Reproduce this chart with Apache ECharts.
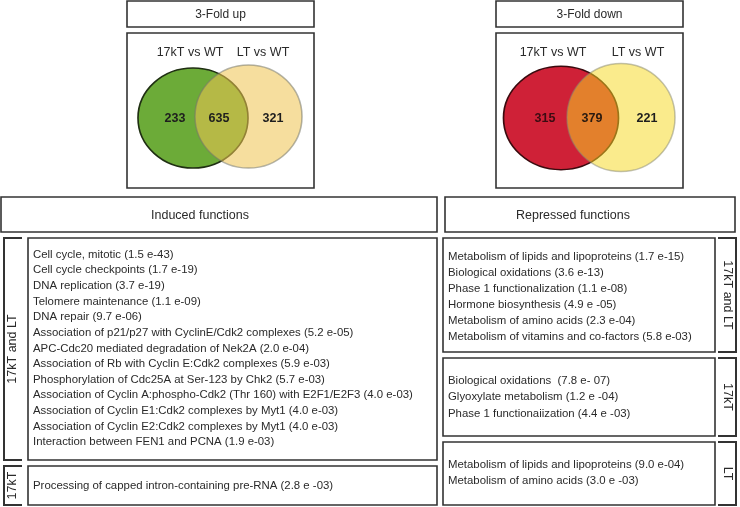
<!DOCTYPE html>
<html>
<head>
<meta charset="utf-8">
<script src="https://cdn.jsdelivr.net/npm/echarts@6/dist/echarts.min.js"></script>
<style>
html,body{margin:0;padding:0;background:#fff;}
#chart{width:740px;height:507px;}
</style>
</head>
<body>
<div id="chart"></div>
<script>
// ---- data ----
const vennTitles = ['3-Fold up', '3-Fold down'];
const setLabels = ['17kT vs WT', 'LT vs WT'];
const upCounts = [233, 635, 321];      // 17kT only, both, LT only
const downCounts = [315, 379, 221];    // 17kT only, both, LT only
const sectionHeaders = ['Induced functions', 'Repressed functions'];
const groupLabels = ['17kT and LT', '17kT', 'LT'];
const inducedBoth = [
  'Cell cycle, mitotic (1.5 e-43)',
  'Cell cycle checkpoints (1.7 e-19)',
  'DNA replication (3.7 e-19)',
  'Telomere maintenance (1.1 e-09)',
  'DNA repair (9.7 e-06)',
  'Association of p21/p27 with CyclinE/Cdk2 complexes (5.2 e-05)',
  'APC-Cdc20 mediated degradation of Nek2A (2.0 e-04)',
  'Association of Rb with Cyclin E:Cdk2 complexes (5.9 e-03)',
  'Phosphorylation of Cdc25A at Ser-123 by Chk2 (5.7 e-03)',
  'Association of Cyclin A:phospho-Cdk2 (Thr 160) with E2F1/E2F3 (4.0 e-03)',
  'Association of Cyclin E1:Cdk2 complexes by Myt1 (4.0 e-03)',
  'Association of Cyclin E2:Cdk2 complexes by Myt1 (4.0 e-03)',
  'Interaction between FEN1 and PCNA (1.9 e-03)'
];
const induced17kT = ['Processing of capped intron-containing pre-RNA (2.8 e -03)'];
const repressedBoth = [
  'Metabolism of lipids and lipoproteins (1.7 e-15)',
  'Biological oxidations (3.6 e-13)',
  'Phase 1 functionalization (1.1 e-08)',
  'Hormone biosynthesis (4.9 e -05)',
  'Metabolism of amino acids (2.3 e-04)',
  'Metabolism of vitamins and co-factors (5.8 e-03)'
];
const repressed17kT = [
  'Biological oxidations  (7.8 e- 07)',
  'Glyoxylate metabolism (1.2 e -04)',
  'Phase 1 functionaiization (4.4 e -03)'
];
const repressedLT = [
  'Metabolism of lipids and lipoproteins (9.0 e-04)',
  'Metabolism of amino acids (3.0 e -03)'
];

// ---- drawing ----
const FONT = '"Liberation Sans", Arial, Helvetica, sans-serif';
const INK = '#2a2a2a';
const BOX = '#333';
const LIST = 11.4;
const g = [];

function rect(x, y, w, h, lw) {
  g.push({type: 'rect', shape: {x: x, y: y, width: w, height: h},
    style: {fill: 'none', stroke: BOX, lineWidth: lw || 1.6}, z: 5});
}
function text(str, x, y, opt) {
  opt = opt || {};
  g.push({type: 'text', x: x, y: y, rotation: opt.rot || 0, z: 10,
    style: {text: str, fill: opt.color || INK, font: (opt.weight || 'normal') + ' ' + (opt.size || 11) + 'px ' + FONT,
      textAlign: opt.align || 'left', textVerticalAlign: 'middle'}});
}
function ellipse(cx, cy, rx, ry, fill, stroke, opacity, lw) {
  g.push({type: 'circle', x: cx, y: cy, scaleX: rx / ry, scaleY: 1, shape: {cx: 0, cy: 0, r: ry}, z: 2,
    style: {fill: fill, stroke: stroke, lineWidth: lw || 1.4, opacity: opacity, strokeNoScale: true}});
}
function bracket(x0, x1, y0, y1) {
  g.push({type: 'polyline', shape: {points: [[x1, y0], [x0, y0], [x0, y1], [x1, y1]]}, z: 5,
    style: {fill: 'none', stroke: BOX, lineWidth: 2}});
}
function lines(arr, x, y0, dy, size) {
  arr.forEach(function (s, i) { text(s, x, y0 + i * dy, {size: size || LIST}); });
}

// Venn panels
const venn = [
  {x: 127, counts: upCounts, title: vennTitles[0],
   L: {cx: 193, cy: 118, rx: 55, ry: 50, fill: '#6cab38', stroke: '#1f2f12'},
   R: {cx: 248.5, cy: 116.5, rx: 53.5, ry: 51.5, fill: '#efc452', op: 0.56, stroke: '#7a7a6a'},
   lab: [190, 263], num: [175, 219, 273], numColor: ['#1e1e1e', '#1e1e1e', '#1e1e1e']},
  {x: 496, counts: downCounts, title: vennTitles[1],
   L: {cx: 561, cy: 118, rx: 57.5, ry: 51.7, fill: '#cf2137', stroke: '#3a0a0e'},
   R: {cx: 621, cy: 117.5, rx: 54, ry: 54, fill: '#f6d923', op: 0.52, stroke: '#8a8a70'},
   lab: [553, 638], num: [545, 592, 647], numColor: ['#3b0c12', '#2a1a10', '#1e1e1e']}
];
venn.forEach(function (v) {
  rect(v.x, 1, 187, 26);
  text(v.title, v.x + 93.5, 14.5, {size: 12, align: 'center'});
  rect(v.x, 33, 187, 155);
  text(setLabels[0], v.lab[0], 53, {size: 12.5, align: 'center'});
  text(setLabels[1], v.lab[1], 53, {size: 12.5, align: 'center'});
  ellipse(v.L.cx, v.L.cy, v.L.rx, v.L.ry, v.L.fill, v.L.stroke, 1, 1.5);
  ellipse(v.R.cx, v.R.cy, v.R.rx, v.R.ry, v.R.fill, v.R.stroke, v.R.op, 1.5);
  v.counts.forEach(function (c, i) {
    text(String(c), v.num[i], 119, {size: 12.5, weight: 'bold', align: 'center', color: v.numColor[i]});
  });
});

// Section headers
rect(1, 197, 436, 35);
text(sectionHeaders[0], 200, 215.5, {size: 12.5, align: 'center'});
rect(445, 197, 290, 35);
text(sectionHeaders[1], 573, 215.5, {size: 12.5, align: 'center'});

// Induced: 17kT and LT
bracket(4, 22, 238, 460);
text(groupLabels[0], 13, 349, {size: 12.5, align: 'center', rot: Math.PI / 2});
rect(28, 238, 409, 222);
lines(inducedBoth, 33, 254.5, 15.65);

// Induced: 17kT
bracket(4, 22, 466, 505);
text(groupLabels[1], 13, 485.5, {size: 12.5, align: 'center', rot: Math.PI / 2});
rect(28, 466, 409, 39);
lines(induced17kT, 33, 486, 16);

// Repressed: 17kT and LT
rect(443, 238, 272, 114);
bracket(736, 718, 238, 352);
text(groupLabels[0], 727, 295, {size: 12.5, align: 'center', rot: -Math.PI / 2});
lines(repressedBoth, 448, 256.5, 16);

// Repressed: 17kT
rect(443, 358, 272, 78);
bracket(736, 718, 358, 436);
text(groupLabels[1], 727, 397, {size: 12.5, align: 'center', rot: -Math.PI / 2});
lines(repressed17kT, 448, 380.5, 16.5);

// Repressed: LT
rect(443, 442, 272, 63);
bracket(736, 718, 442, 505);
text(groupLabels[2], 727, 473.5, {size: 12.5, align: 'center', rot: -Math.PI / 2});
lines(repressedLT, 448, 465, 16);

const chart = echarts.init(document.getElementById('chart'), null, {renderer: 'canvas'});
chart.setOption({backgroundColor: '#fff', animation: false, graphic: {elements: g}});
</script>
</body>
</html>
